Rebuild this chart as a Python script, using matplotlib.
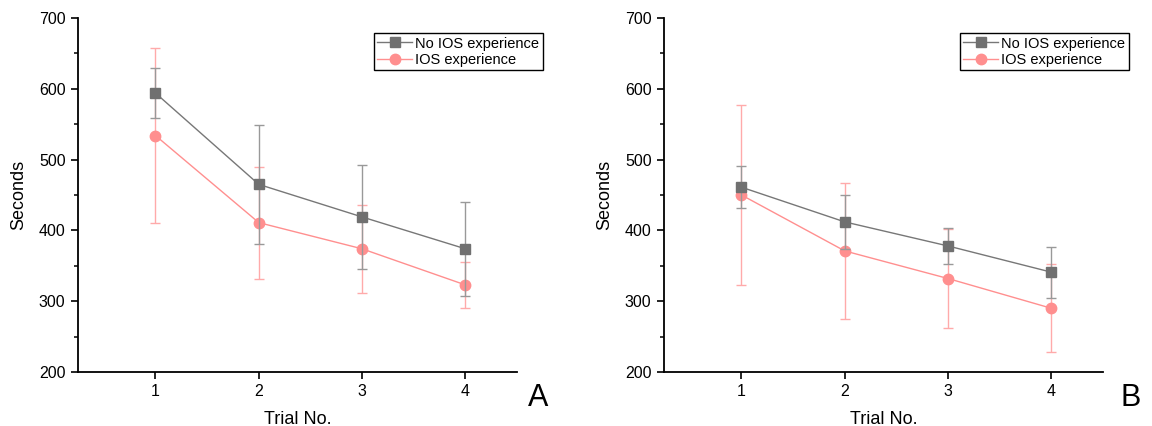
import matplotlib
matplotlib.use("Agg")
import matplotlib.pyplot as plt
from matplotlib.ticker import MultipleLocator
from matplotlib.lines import Line2D

plt.rcParams['font.family'] = ['Liberation Sans', 'DejaVu Sans']

trials = [1, 2, 3, 4]
series_labels = ["No IOS experience", "IOS experience"]

# Panel A
a_no_ios = [594, 465, 419, 374]
a_no_ios_err = [35, 84, 73, 66]
a_ios = [534, 411, 374, 323]
a_ios_err = [123, 79, 62, 33]

# Panel B
b_no_ios = [461, 412, 378, 341]
b_no_ios_err = [30, 38, 25, 36]
b_ios = [450, 371, 332, 290]
b_ios_err = [127, 96, 70, 62]

panel_letters = ["A", "B"]

fig = plt.figure(figsize=(11.52, 4.26), dpi=100)
W, H = 1152, 426
gray = '#777777'
gray_mk = '#707070'
gray_err = '#999999'
pink = '#ff8f8f'
pink_err = '#ffaaaa'

def make_panel(left_px, data, letter, letter_x):
    ax = fig.add_axes([left_px / W, 1 - 372 / H, 439 / W, (372 - 18) / H])
    no_ios, no_err, ios, ios_err = data
    ax.errorbar(trials, no_ios, yerr=no_err, color=gray, ecolor=gray_err,
                elinewidth=1, capsize=3.5, capthick=1, lw=1, marker='s',
                markersize=6.5, markerfacecolor=gray_mk, markeredgecolor=gray_mk,
                zorder=3)
    ax.errorbar(trials, ios, yerr=ios_err, color=pink, ecolor=pink_err,
                elinewidth=1, capsize=3.5, capthick=1, lw=1, marker='o',
                markersize=7.5, markerfacecolor=pink, markeredgecolor=pink,
                zorder=2)
    ax.set_xlim(0.25, 4.5)
    ax.set_ylim(200, 700)
    ax.set_xticks(trials)
    ax.yaxis.set_major_locator(MultipleLocator(100))
    ax.yaxis.set_minor_locator(MultipleLocator(50))
    for s in ['top', 'right']:
        ax.spines[s].set_visible(False)
    for s in ['left', 'bottom']:
        ax.spines[s].set_linewidth(1.3)
    ax.tick_params(axis='both', which='major', direction='out', length=5,
                   width=1.2, labelsize=11.5, pad=4)
    ax.tick_params(axis='y', which='minor', direction='out', length=3, width=1.1)
    ax.set_xlabel("Trial No.", fontsize=13, labelpad=8)
    ax.set_ylabel("Seconds", fontsize=13, labelpad=8)
    handles = [
        Line2D([], [], color=gray, lw=1, marker='s', markersize=6.5,
               markerfacecolor=gray_mk, markeredgecolor=gray_mk),
        Line2D([], [], color=pink, lw=1, marker='o', markersize=7.5,
               markerfacecolor=pink, markeredgecolor=pink),
    ]
    leg = ax.legend(handles, series_labels, loc='upper right',
                    bbox_to_anchor=(1.059, 0.958),
                    fontsize=10.5, frameon=True, fancybox=False,
                    edgecolor='black', framealpha=1, handlelength=2.4,
                    handletextpad=0.2, borderpad=0.25, labelspacing=0.15,
                    borderaxespad=0)
    leg.get_frame().set_linewidth(1.0)
    fig.text(letter_x / W, 1 - 398 / H, letter, fontsize=22, ha='center', va='center')
    return ax

make_panel(78, (a_no_ios, a_no_ios_err, a_ios, a_ios_err), panel_letters[0], 538)
make_panel(664, (b_no_ios, b_no_ios_err, b_ios, b_ios_err), panel_letters[1], 1131)

fig.savefig("out.png", dpi=100)
